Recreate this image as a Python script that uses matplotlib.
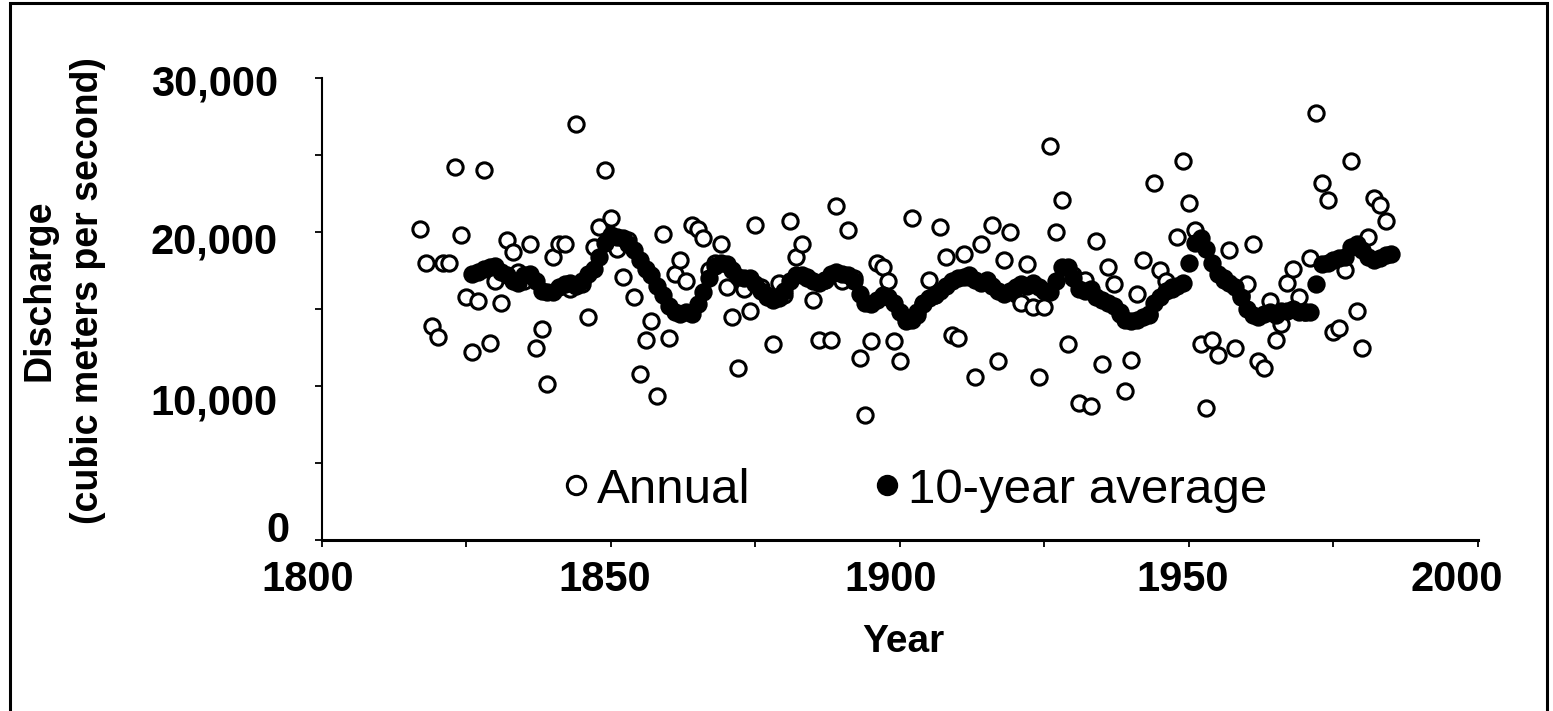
import matplotlib
matplotlib.use("Agg")
import matplotlib.pyplot as plt
from matplotlib.patches import Rectangle
import numpy as np

plt.rcParams['font.family'] = ['Liberation Sans', 'DejaVu Sans']

# annual discharge, thousand m3/s, one value per year from 1817
annual_start = 1817
annual_k = [
    20.2, 18.0, 13.9, 13.2, 18.0, 18.0, 24.2, 19.8, 15.8, 12.2,   # 1817-1826
    15.5, 24.0, 12.8, 16.8, 15.4, 19.5, 18.7, 17.4, 16.8, 19.2,   # 1827-1836
    12.5, 13.7, 10.1, 18.4, 19.2, 19.2, 16.3, 27.0, 16.6, 14.5,   # 1837-1846
    19.0, 20.3, 24.0, 20.9, 18.9, 17.1, 19.5, 15.8, 10.8, 13.0,   # 1847-1856
    14.2, 9.35, 19.85, 13.1, 17.3, 18.2, 16.8, 20.45, 20.2, 19.6, # 1857-1866
    17.5, 18.0, 19.2, 16.45, 14.5, 11.2, 16.3, 14.9, 20.45, 16.4, # 1867-1876
    15.9, 12.7, 16.7, 15.9, 20.7, 18.4, 19.2, 17.1, 15.6, 13.0,   # 1877-1886
    16.9, 13.0, 21.7, 16.8, 20.1, 17.0, 11.8, 8.1, 12.9, 18.0,    # 1887-1896
    17.75, 16.8, 12.9, 11.6, 14.4, 20.9, 14.6, 15.4, 16.9, 15.9,  # 1897-1906
    20.3, 18.4, 13.3, 13.1, 18.6, 17.1, 10.6, 19.2, 16.8, 20.45,  # 1907-1916
    11.6, 18.2, 20.0, 16.0, 15.4, 17.9, 15.15, 10.6, 15.1, 25.6,  # 1917-1926
    20.0, 22.1, 12.7, 17.2, 8.9, 16.9, 8.7, 19.4, 11.4, 17.75,    # 1927-1936
    16.6, 14.7, 9.7, 11.7, 16.0, 18.2, 14.6, 23.2, 17.5, 16.8,    # 1937-1946
    16.3, 19.7, 24.6, 21.9, 20.1, 12.7, 8.55, 13.0, 12.0, 17.0,   # 1947-1956
    18.8, 12.45, 15.9, 16.6, 19.2, 11.6, 11.15, 15.5, 13.0, 14.0, # 1957-1966
    16.7, 17.6, 15.8, 14.8, 18.3, 27.7, 23.2, 22.1, 13.5, 13.75,  # 1967-1976
    17.5, 24.6, 14.9, 12.45, 19.7, 22.2, 21.75, 20.7,             # 1977-1984
]

# 10-year running average, thousand m3/s, from 1826
avg_start = 1826
avg_k = [
    17.3, 17.4, 17.6, 17.7, 17.8, 17.4, 17.2, 16.8, 16.7, 17.2,   # 1826-1835
    17.3, 16.8, 16.2, 16.1, 16.1, 16.4, 16.6, 16.7, 16.5, 16.8,   # 1836-1845
    17.3, 17.6, 18.4, 19.3, 19.8, 19.7, 19.6, 19.2, 18.8, 18.2,   # 1846-1855
    17.6, 17.2, 16.5, 15.9, 15.2, 14.8, 14.7, 14.8, 14.7, 15.3,   # 1856-1865
    16.1, 17.0, 17.8, 18.0, 17.9, 17.5, 17.1, 17.0, 17.0, 16.6,   # 1866-1875
    16.2, 15.8, 15.6, 15.7, 16.2, 16.8, 17.2, 17.2, 17.0, 16.8,   # 1876-1885
    16.7, 16.9, 17.3, 17.4, 17.3, 17.2, 16.8, 16.0, 15.4, 15.3,   # 1886-1895
    15.6, 15.9, 15.8, 15.4, 14.8, 14.2, 14.3, 14.8, 15.3, 15.7,   # 1896-1905
    15.9, 16.2, 16.5, 16.8, 17.0, 17.1, 17.2, 16.9, 16.7, 16.9,   # 1906-1915
    16.5, 16.2, 16.0, 16.2, 16.4, 16.6, 16.5, 16.7, 16.4, 16.2,   # 1916-1925
    16.1, 16.8, 17.7, 17.7, 17.0, 16.3, 16.2, 16.3, 15.8, 15.6,   # 1926-1935
    15.4, 15.2, 14.8, 14.3, 14.2, 14.3, 14.5, 14.7, 15.4, 15.8,   # 1936-1945
    16.2, 16.4, 16.5, 16.7, 18.0, 19.3, 19.6, 18.9, 18.0, 17.3,   # 1946-1955
    16.9, 16.7, 16.4, 15.8, 15.0, 14.6, 14.5, 14.7, 14.8, 14.6,   # 1956-1965
    14.9, 14.9, 15.0, 14.8, 14.8, 14.8, 16.6, 17.9, 18.0, 18.2,   # 1966-1975
    18.3, 18.4, 19.0, 19.2, 18.8, 18.4, 18.2, 18.3, 18.5, 18.6,   # 1976-1985
]

ytick_values = [0, 10000, 20000, 30000]
ytick_text = ['0', '10,000', '20,000', '30,000']
xtick_values = [1800, 1850, 1900, 1950, 2000]

annual_years = np.arange(annual_start, annual_start + len(annual_k))
avg_years = np.arange(avg_start, avg_start + len(avg_k))
annual = np.array(annual_k) * 1000
avg = np.array(avg_k) * 1000

fig = plt.figure(figsize=(15.53, 7.11), dpi=100)
ax = fig.add_axes([0.2073, 0.2405, 0.7444, 0.6498])

ax.plot(annual_years, annual, 'o', ls='none', mfc='white', mec='black',
        ms=11, mew=2.2, label='Annual')
ax.plot(avg_years, avg, 'o', ls='none', mfc='black', mec='black',
        ms=11, mew=2.2, label='10-year average')

ax.set_xlim(1800, 2000)
ax.set_ylim(0, 30000)
ax.set_xticks(np.arange(1800, 2001, 25))
ax.set_yticks(np.arange(0, 30001, 5000))
ax.set_xticklabels([])
ax.set_yticklabels([])
ax.tick_params(axis='both', direction='out', length=5, width=1.3, color='black')
for side in ['top', 'right']:
    ax.spines[side].set_visible(False)
ax.spines['left'].set_linewidth(1.5)
ax.spines['bottom'].set_linewidth(2.2)

# tick labels sit a little off their ticks in the original
ynudge = [9, -17, -11, -7]
yshift = [-32, -44, -44, -44]
for v, t, dy, dx in zip(ytick_values, ytick_text, ynudge, yshift):
    ax.annotate(t, xy=(0, v), xycoords=ax.get_yaxis_transform(),
                xytext=(dx, dy), textcoords='offset pixels',
                ha='right', va='center', fontsize=30, fontweight='bold')
xnudge = [-14, -6, -9, -6, -21]
for v, dx in zip(xtick_values, xnudge):
    ax.annotate(str(v), xy=(v, 0), xycoords=ax.get_xaxis_transform(),
                xytext=(dx, -40), textcoords='offset pixels',
                ha='center', va='center', fontsize=30, fontweight='bold')

fig.text(0.5815, 0.097, 'Year', ha='center', va='center',
         fontsize=28, fontweight='bold')
fig.text(0.041, 0.592, 'Discharge\n(cubic meters per second)', rotation=90,
         ha='center', va='center', multialignment='center',
         fontsize=27, fontweight='bold', linespacing=1.45)

ax.legend(loc='center', bbox_to_anchor=(0.514, 0.108), ncol=2, frameon=False,
          fontsize=35.5, handlelength=0.45, handletextpad=0.2,
          columnspacing=2.55, markerscale=1.2, borderpad=0, borderaxespad=0)

fig.patches.append(Rectangle((0.0064, -0.05), 0.9897, 1.0458,
                             transform=fig.transFigure, fill=False,
                             lw=2.2, ec='black'))

fig.savefig('out.png', dpi=100)
